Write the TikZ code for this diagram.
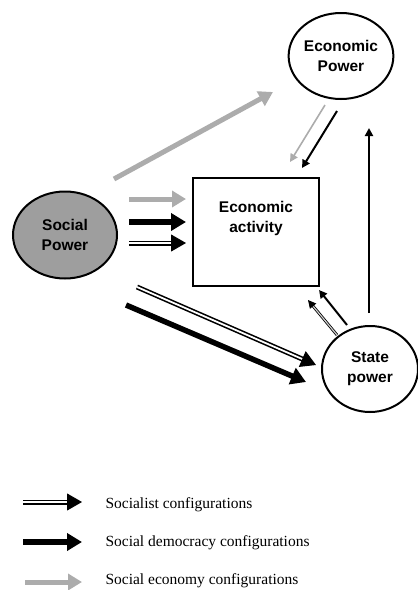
\documentclass[tikz,border=0pt]{standalone}
\usepackage{fontspec}
\setmainfont{Liberation Serif}
\newfontfamily\arialfont{Liberation Sans}
\usetikzlibrary{arrows.meta,shapes.geometric,calc}
\definecolor{agray}{RGB}{172,172,172}
\definecolor{fgray}{RGB}{158,158,158}
\tikzset{
  lbl/.style={font=\arialfont\bfseries\fontsize{15.5}{20}\selectfont, align=center},
  ell/.style={ellipse, draw, line width=2pt, inner sep=0pt, lbl},
  bigblk/.style={line width=5.5pt, -{Triangle[length=15pt,width=17pt]}},
  biggry/.style={line width=5pt, agray, -{Triangle[length=14pt,width=16pt]}},
  dblline/.style={double=white, double distance=1.8pt, line width=1.6pt},
  bigtip/.style={line width=1pt, -{Triangle[length=15pt,width=17pt]}},
  thinblk/.style={line width=2pt, -{Triangle[length=8pt,width=8pt]}},
  thingry/.style={line width=1.6pt, agray, -{Triangle[length=8pt,width=8pt]}},
  smalldbl/.style={double=agray!60, double distance=1.2pt, line width=0.8pt},
  smalltip/.style={line width=0.8pt, -{Triangle[length=8pt,width=8pt]}},
  legtext/.style={font=\fontsize{15.5}{18}\selectfont, anchor=base west}
}
\begin{document}
\begin{tikzpicture}[x=1pt,y=-1pt]
\useasboundingbox (0,0) rectangle (418,590);
% nodes
\node[ell, minimum width=104pt, minimum height=86pt] (ep) at (341,56) {Economic\\Power};
\node[ell, fill=fgray, minimum width=104pt, minimum height=87pt] (sp) at (65,235) {Social\\Power};
\node[ell, minimum width=96pt, minimum height=86pt] (st) at (370,369) {State\\power};
\node[draw, line width=2pt, minimum width=126pt, minimum height=108pt, inner sep=0pt] (box) at (256,232) {};
\node[lbl] (boxt) at (256,218) {Economic\\activity};
% coordinates
\coordinate (g1s) at (114,179); \coordinate (g1e) at (273,92);
\coordinate (h1s) at (129,199); \coordinate (h1e) at (186,199);
\coordinate (h2s) at (129,222); \coordinate (h2e) at (186,222);
\coordinate (h3s) at (129,243); \coordinate (h3e) at (186,243);
\coordinate (e1s) at (325,105); \coordinate (e1e) at (290,162);
\coordinate (e2s) at (337,111); \coordinate (e2e) at (302,168);
\coordinate (vs) at (369,313); \coordinate (ve) at (369,128);
\coordinate (s1s) at (347,325); \coordinate (s1e) at (319,290);
\coordinate (s2s) at (337,335); \coordinate (s2e) at (308,300);
\coordinate (d1s) at (137,287); \coordinate (d1e) at (316,365);
\coordinate (d2s) at (126,305); \coordinate (d2e) at (306,382);
% arrows
\draw[biggry] (g1s) -- (g1e);
\draw[biggry] (h1s) -- (h1e);
\draw[bigblk] (h2s) -- (h2e);
\draw[dblline] (h3s) -- ($(h3e)!12pt!(h3s)$);
\draw[bigtip] ($(h3e)!14pt!(h3s)$) -- (h3e);
\draw[thingry] (e1s) -- (e1e);
\draw[thinblk] (e2s) -- (e2e);
\draw[thinblk] (vs) -- (ve);
\draw[thinblk] (s1s) -- (s1e);
\draw[smalldbl] (s2s) -- ($(s2e)!6pt!(s2s)$);
\draw[smalltip] ($(s2e)!8pt!(s2s)$) -- (s2e);
\draw[dblline] (d1s) -- ($(d1e)!12pt!(d1s)$);
\draw[bigtip] ($(d1e)!14pt!(d1s)$) -- (d1e);
\draw[bigblk] (d2s) -- (d2e);
% legend
\coordinate (l1s) at (23,502); \coordinate (l1e) at (82,502);
\coordinate (l2s) at (23,542); \coordinate (l2e) at (82,542);
\coordinate (l3s) at (25,582); \coordinate (l3e) at (82,582);
\draw[dblline] (l1s) -- ($(l1e)!12pt!(l1s)$);
\draw[bigtip] ($(l1e)!14pt!(l1s)$) -- (l1e);
\draw[bigblk] (l2s) -- (l2e);
\draw[biggry] (l3s) -- (l3e);
\node[legtext] (t1) at (102,508) {Socialist configurations};
\node[legtext] (t2) at (102,546) {Social democracy configurations};
\node[legtext] (t3) at (102,584) {Social economy configurations};
\end{tikzpicture}
\end{document}
